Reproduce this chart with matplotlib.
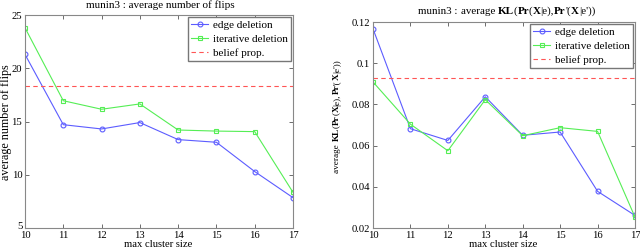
import numpy as np
import matplotlib
matplotlib.use('Agg')
from matplotlib import pyplot as plt
from matplotlib.transforms import IdentityTransform, ScaledTranslation

plt.rcParams['font.family'] = 'Liberation Serif'
plt.rcParams['font.size'] = 8

cluster = [10, 11, 12, 13, 14, 15, 16, 17]

flips_edge = [21.3, 14.7, 14.3, 14.9, 13.3, 13.05, 10.3, 7.85]
flips_iter = [23.8, 16.95, 16.15, 16.65, 14.2, 14.1, 14.05, 8.35]
flips_bp = 18.3

kl_edge = [0.1167, 0.0682, 0.0625, 0.0837, 0.0650, 0.0666, 0.0378, 0.0261]
kl_iter = [0.0909, 0.0704, 0.0575, 0.0823, 0.0648, 0.0687, 0.0669, 0.0253]
kl_bp = 0.0928

# (text, weight) pieces for the KL label
kl_pieces = [('average ', 'normal'), ('KL', 'bold'), ('(', 'normal'), ('Pr', 'bold'),
             ('(', 'normal'), ('X', 'bold'), ('|e),', 'normal'), ('Pr', 'bold'),
             ("'(", 'normal'), ('X', 'bold'), ("|e'))", 'normal')]

blue = '#5c5cff'
green = '#55ee55'
red = '#ff5555'

W, H = 640, 249
fig = plt.figure(figsize=(6.4, 2.49), dpi=100)
ax1 = fig.add_axes([25/W, 1-228/H, 268/W, 213/H])
ax2 = fig.add_axes([373/W, 1-228/H, 262/W, 206/H])
rend = fig.canvas.get_renderer()


def piece_width(s, size, weight):
    a = fig.text(0, 0, '|' + s + '|', fontsize=size, fontweight=weight)
    b = fig.text(0, 0, '||', fontsize=size, fontweight=weight)
    w = a.get_window_extent(rend).width - b.get_window_extent(rend).width
    a.remove()
    b.remove()
    return w


def rich(pieces, x, y, size, vertical=False):
    # x, y: pixels from top-left; centred along the run of text, baseline at x or y
    widths = [piece_width(s, size, w) for s, w in pieces]
    total = sum(widths)
    pos = -total / 2
    for (s, w), d in zip(pieces, widths):
        if vertical:
            fig.text(x, H - y + pos, s, fontsize=size, fontweight=w, rotation=90,
                     rotation_mode='anchor', ha='left', va='baseline', transform=IdentityTransform())
        else:
            fig.text(x + pos, H - y, s, fontsize=size, fontweight=w,
                     ha='left', va='baseline', transform=IdentityTransform())
        pos += d


def draw(ax, edge, itr, bp):
    ax.plot(cluster, edge, '-o', color=blue, lw=0.8, ms=3.5, mfc='none', mew=0.8, label='edge deletion')
    ax.plot(cluster, itr, '-s', color=green, lw=0.8, ms=3, mfc='none', mew=0.8, label='iterative deletion')
    ax.axhline(bp, color=red, ls='--', lw=0.8, dashes=(4, 3), label='belief prop.')
    ax.set_xlim(10, 17)
    ax.set_xticks(cluster)
    ax.tick_params(direction='in', length=3, width=0.6, top=True, right=True, pad=2,
                   labelsize=7.7, color='#555555')
    for s in ax.spines.values():
        s.set_linewidth(0.8)
        s.set_color('#888888')
    leg = ax.legend(loc='upper right', fancybox=False, edgecolor='#777777', framealpha=1,
                    handlelength=1.5, handletextpad=0.4, borderpad=0.3, labelspacing=0.35,
                    borderaxespad=0.2)
    leg.get_frame().set_linewidth(1.0)


draw(ax1, flips_edge, flips_iter, flips_bp)
ax1.set_ylim(5, 25)
ax1.set_yticks([5, 10, 15, 20, 25])

draw(ax2, kl_edge, kl_iter, kl_bp)
ax2.set_ylim(0.02, 0.12)
ax2.set_yticks([0.02, 0.04, 0.06, 0.08, 0.1, 0.12])
ax2.set_yticklabels(['0.02', '0.04', '0.06', '0.08', '0.1', '0.12'])

# the "5" sits a little above the x axis, as in the original
fig.canvas.draw()
lab = ax1.get_yticklabels()[0]
lab.set_transform(lab.get_transform() + ScaledTranslation(0, 1.5/72, fig.dpi_scale_trans))

# titles and axis labels
rich([('munin3 : average number of flips', 'normal')], 160, 7.5, 8)
rich([('munin3 : ', 'normal')] + kl_pieces, 507, 14, 7.9)
rich([('max cluster size', 'normal')], 158, 246.5, 7.7)
rich([('max cluster size', 'normal')], 503, 246.5, 7.7)
rich([('average number of flips', 'normal')], 8.5, 122, 8.7, vertical=True)
rich(kl_pieces, 339, 116, 6.7, vertical=True)

fig.savefig('out.png', dpi=100)
